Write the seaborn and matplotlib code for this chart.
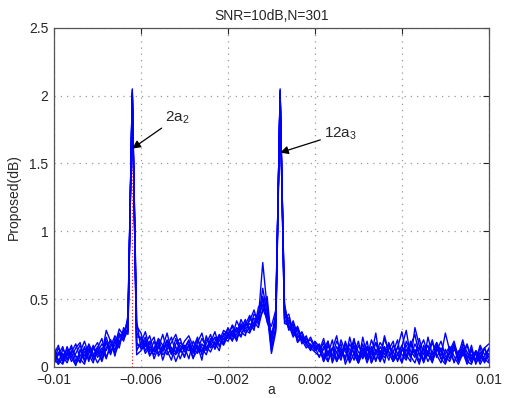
import numpy as np
import pandas as pd
import matplotlib
matplotlib.use("Agg")
import matplotlib.pyplot as plt
import seaborn as sns

# ---- data ----
a_values = np.round(np.linspace(-0.01, 0.01, 101), 6)

run1 = [.06,.02,.13,.08,.16,.04,.11,.19,.09,.03,.14,.21,.07,.15,.23,.17,.26,
        .31, 2.05, .22,
        .22,.15,.19,.06,.14,.24,.12,.05,.17,.21,.11,.15,.06,.18,.25,.13,.16,.22,.19,.27,
        .24,.30,.21,.28,.35,.26,.33,.40,
        .45,.38,.18, .35, 2.03, .42,
        .33,.28,.22,.25,.18,.20,.14,
        .14,.06,.19,.03,.11,.17,.02,.10,.21,.05,.13,.03,.12,.18,.07,.23,.11,.04,.09,.16,
        .06,.19,.10,.02,.14,.08,.18,.09,.03,.13,.06,.16,.04,.11,.02,.09,.05,.14,.03,.10]
run2 = [.02,.11,.04,.15,.07,.01,.13,.05,.17,.10,.03,.09,.27,.19,.12,.25,.20,
        .27, 2.01, .12,
        .18,.26,.13,.09,.16,.11,.20,.14,.04,.12,.19,.23,.15,.10,.17,.12,.21,.16,.24,.20,
        .29,.22,.34,.27,.31,.38,.29,.36,
        .77,.44,.12, .30, 2.05, .38,
        .36,.24,.30,.21,.17,.22,.15,
        .07,.15,.09,.20,.04,.13,.07,.17,.10,.03,.22,.08,.15,.05,.12,.03,.18,.07,.14,.26,
        .09,.04,.29,.16,.05,.11,.20,.07,.14,.03,.10,.17,.06,.13,.04,.02,.12,.08,.04,.14]
run3 = [.13,.05,.02,.10,.14,.08,.04,.15,.06,.13,.18,.09,.22,.12,.16,.28,.23,
        .36, 1.99, .18,
        .14,.20,.09,.13,.18,.05,.15,.22,.10,.13,.08,.16,.12,.20,.14,.09,.18,.26,.15,.21,
        .19,.25,.28,.23,.30,.34,.42,.31,
        .52,.36,.22, .40, 2.00, .35,
        .29,.32,.19,.23,.16,.13,.18,
        .11,.18,.04,.13,.23,.07,.14,.03,.10,.19,.06,.13,.09,.25,.04,.15,.08,.11,.20,.03,
        .13,.07,.17,.10,.04,.22,.09,.14,.06,.02,.12,.19,.07,.13,.04,.16,.02,.11,.06,.03]
run4 = [.05,.14,.08,.03,.11,.17,.06,.02,.13,.08,.15,.05,.19,.10,.21,.14,.29,
        .24, 2.03, .30,
        .25,.12,.17,.22,.08,.13,.19,.10,.15,.06,.14,.20,.11,.16,.05,.23,.14,.18,.12,.25,
        .21,.27,.19,.32,.25,.29,.36,.33,
        .41,.48,.15, .28, 2.02, .45,
        .30,.26,.27,.20,.14,.17,.12,
        .16,.04,.12,.08,.19,.13,.05,.22,.09,.03,.14,.07,.20,.11,.04,.12,.17,.06,.09,.15,
        .27,.08,.13,.04,.16,.10,.03,.18,.11,.05,.15,.08,.02,.10,.17,.06,.12,.04,.14,.07]
run5 = [.10,.02,.07,.13,.04,.10,.16,.08,.14,.05,.11,.17,.12,.20,.08,.22,.25,
        .33, 2.04, .09,
        .12,.17,.23,.11,.16,.09,.13,.18,.24,.14,.07,.17,.07,.12,.21,.15,.11,.19,.23,.17,
        .26,.20,.24,.35,.28,.32,.27,.44,
        .49,.33,.25, .33, 2.04, .40,
        .27,.34,.24,.19,.21,.15,.16,
        .12,.21,.08,.14,.04,.10,.17,.13,.05,.16,.09,.19,.03,.13,.08,.21,.11,.04,.15,.09,
        .05,.16,.24,.08,.13,.04,.11,.18,.06,.10,.15,.03,.12,.08,.16,.05,.10,.02,.08,.13]
run6 = [.03,.09,.15,.05,.10,.02,.08,.14,.04,.16,.09,.14,.06,.17,.13,.19,.22,
        .29, 1.97, .25,
        .20,.10,.15,.12,.21,.16,.09,.14,.11,.18,.15,.06,.19,.13,.11,.17,.24,.13,.20,.16,
        .23,.31,.26,.22,.33,.28,.39,.35,
        .58,.40,.10, .26, 1.98, .36,
        .39,.25,.21,.26,.18,.12,.19,
        .15,.04,.16,.09,.06,.20,.11,.07,.16,.03,.10,.15,.06,.18,.11,.07,.13,.19,.04,.12,
        .16,.08,.03,.13,.20,.09,.05,.15,.08,.25,.12,.04,.10,.15,.06,.12,.03,.08,.14,.04]
run7 = [.09,.16,.03,.11,.07,.14,.18,.04,.10,.15,.07,.12,.18,.09,.19,.24,.19,
        .38, 2.02, .16,
        .16,.22,.11,.19,.10,.15,.25,.12,.09,.16,.13,.19,.10,.15,.12,.20,.17,.14,.22,.18,
        .24,.19,.29,.26,.23,.37,.30,.38,
        .46,.52,.20, .37, 2.01, .32,
        .31,.22,.29,.17,.23,.14,.11,
        .08,.13,.19,.05,.15,.09,.17,.04,.19,.11,.07,.15,.03,.10,.18,.13,.05,.16,.10,.03,
        .19,.12,.07,.21,.09,.16,.04,.12,.19,.08,.04,.13,.09,.20,.07,.13,.05,.16,.09,.13]
run8 = [.15,.04,.10,.06,.12,.08,.03,.11,.16,.07,.12,.04,.14,.20,.10,.17,.27,
        .25, 2.00, .34,
        .13,.18,.08,.14,.20,.12,.17,.09,.21,.11,.16,.12,.14,.22,.09,.14,.19,.21,.16,.23,
        .28,.24,.20,.30,.27,.25,.33,.29,
        .43,.35,.30, .42, 2.00, .47,
        .28,.31,.18,.22,.19,.16,.13,
        .17,.09,.04,.14,.11,.05,.19,.09,.15,.07,.17,.05,.13,.04,.15,.09,.16,.11,.05,.13,
        .08,.17,.09,.15,.03,.12,.07,.16,.13,.05,.10,.15,.04,.17,.11,.03,.10,.06,.14,.17]

runs = [run1, run2, run3, run4, run5, run6, run7, run8]

marker_x = [-0.0064, -0.0064]
marker_y = [0.0, 2.05]

x_ticks = [-0.01, -0.006, -0.002, 0.002, 0.006, 0.01]
x_tick_labels = ["\u22120.01", "\u22120.006", "\u22120.002", "0.002", "0.006", "0.01"]
y_ticks = [0, 0.5, 1, 1.5, 2, 2.5]
y_tick_labels = ["0", "0.5", "1", "1.5", "2", "2.5"]

ann_labels = ["2a$_2$", "12a$_3$"]
ann_xy = [(-0.0064, 1.61), (0.0004, 1.58)]
ann_text_xy = [(-0.0049, 1.78), (0.0024, 1.66)]

# ---- build table ----
frames = []
for i, r in enumerate(runs):
    assert len(r) == len(a_values), (i, len(r))
    frames.append(pd.DataFrame({"a": a_values, "val": r, "run": i}))
df = pd.concat(frames, ignore_index=True)

sns.set_style("white")
plt.rcParams["font.family"] = ["Liberation Sans", "DejaVu Sans"]
plt.rcParams["mathtext.fontset"] = "custom"
plt.rcParams["mathtext.rm"] = "Liberation Sans"
plt.rcParams["mathtext.it"] = "Liberation Sans"

fig = plt.figure(figsize=(5.05, 3.98), dpi=100)
ax = fig.add_axes([0.107, 0.078, 0.861, 0.852])

ax.plot(marker_x, marker_y, color="red", lw=0.8, linestyle=(0, (1, 2)), zorder=1)
sns.lineplot(data=df, x="a", y="val", hue="run", estimator=None,
             palette=["#0000ff"] * len(runs), legend=False, lw=1.0, ax=ax, zorder=2)

ax.set_xlim(-0.01, 0.01)
ax.set_ylim(0, 2.5)
ax.set_xticks(x_ticks)
ax.set_xticklabels(x_tick_labels)
ax.set_yticks(y_ticks)
ax.set_yticklabels(y_tick_labels)
ax.tick_params(direction="in", length=4, width=0.8, top=True, right=True,
               labelsize=10, colors="#262626", pad=4)
ax.grid(True, linestyle=(0, (1, 4)), color="#9a9a9a", lw=0.9)
for s in ax.spines.values():
    s.set_color("#555555")
    s.set_linewidth(0.9)

ax.set_xlabel("a", fontsize=10)
ax.xaxis.set_label_coords(0.5, -0.048)
ax.set_ylabel("Proposed(dB)", fontsize=10, labelpad=6)
ax.set_title("SNR=10dB,N=301", fontsize=10, pad=6)

for lab, xy, txy in zip(ann_labels, ann_xy, ann_text_xy):
    ax.annotate(lab, xy=xy, xytext=txy, fontsize=11,
                arrowprops=dict(arrowstyle="-|>", color="black", lw=0.9,
                                mutation_scale=12, shrinkA=0, shrinkB=0),
                ha="left", va="bottom", zorder=5)

fig.savefig("out.png", dpi=100)
